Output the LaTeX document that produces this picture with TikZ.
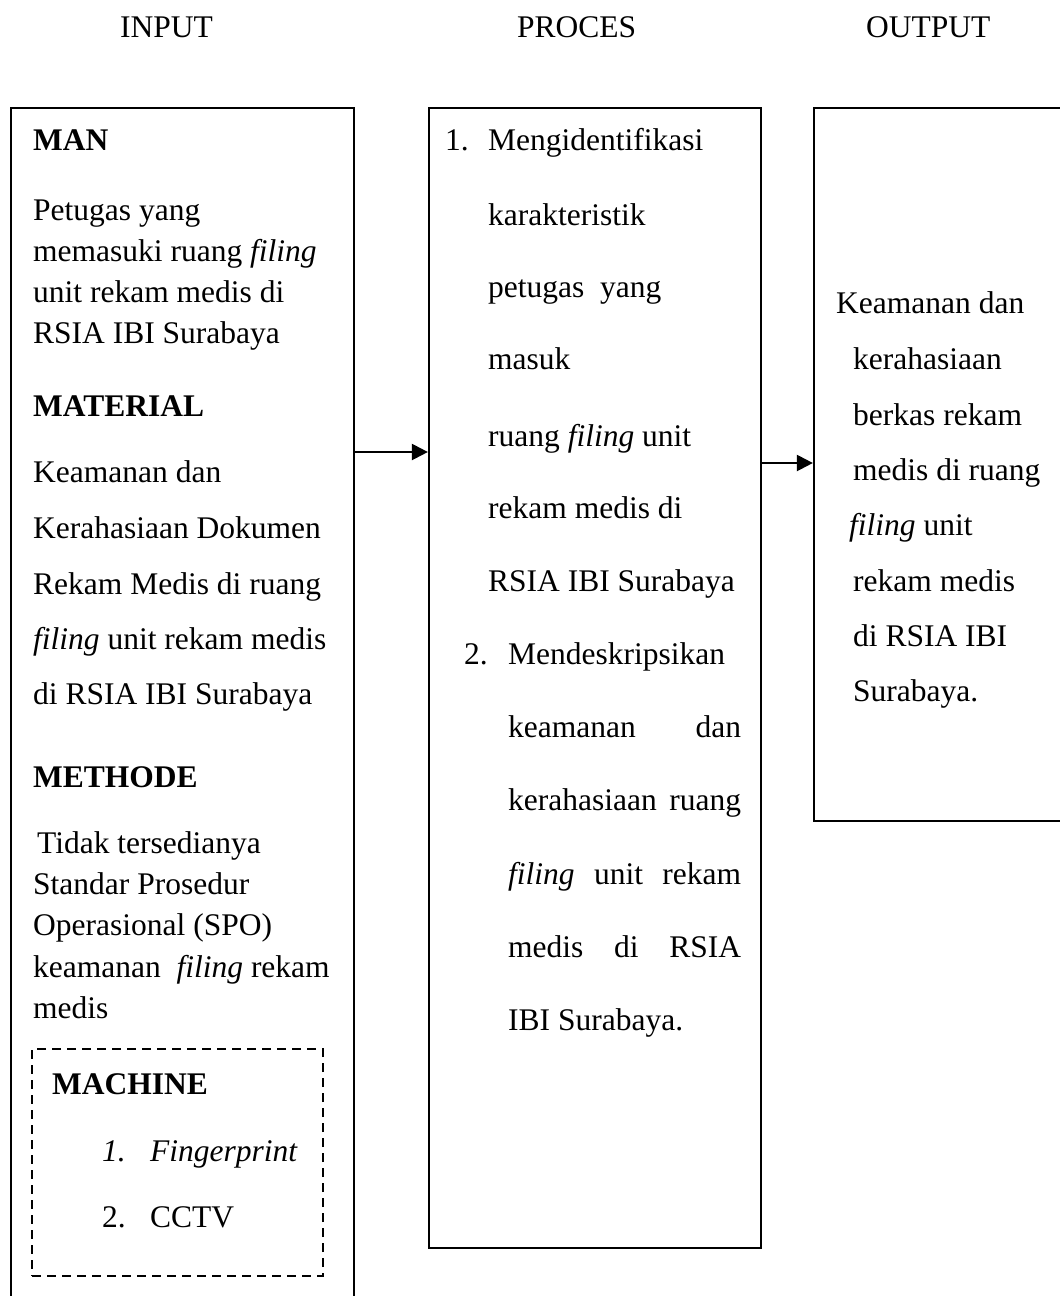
\documentclass[tikz,border=0pt]{standalone}
\usepackage{fontspec}
\setmainfont{Liberation Serif}
\usetikzlibrary{arrows.meta}
\begin{document}
\begin{tikzpicture}[x=1pt,y=-1pt,
  txt/.style={anchor=base west, inner sep=0pt, font=\fontsize{31.5}{38}\selectfont},
  hd/.style={txt, font=\fontsize{31.5}{38}\selectfont\bfseries},
  boxline/.style={draw=black, line width=2.2pt},
  arr/.style={line width=2.2pt, -{Triangle[length=16pt,width=16pt]}}]
\clip (0,0) rectangle (1060,1296);
\fill[white] (0,0) rectangle (1060,1296);
% headers
\node[txt] (hin) at (120,37) {INPUT};
\node[txt] (hpr) at (517,37) {PROCES};
\node[txt] (hout) at (866,37) {OUTPUT};
% boxes
\node[boxline, rectangle, minimum width=343pt, minimum height=1212pt, inner sep=0pt] (inbox) at (182.5,714) {};
\node[boxline, rectangle, minimum width=332pt, minimum height=1140pt, inner sep=0pt] (procbox) at (595,678) {};
\node[boxline, rectangle, minimum width=261pt, minimum height=713pt, inner sep=0pt] (outbox) at (944.5,464.5) {};
\node[draw=black, line width=2.2pt, dash pattern=on 9pt off 6pt, rectangle, minimum width=291pt, minimum height=227pt, inner sep=0pt] (machbox) at (177.5,1162.5) {};
% input texts
\node[hd] (man) at (33,150) {MAN};
\node[txt] (a1) at (33,220) {Petugas yang};
\node[txt] (a2) at (33,261) {memasuki ruang \textit{filing}};
\node[txt] (a3) at (33,302) {unit rekam medis di};
\node[txt] (a4) at (33,343) {RSIA IBI Surabaya};
\node[hd] (mat) at (33,416) {MATERIAL};
\node[txt] (b1) at (33,482) {Keamanan dan};
\node[txt] (b2) at (33,538) {Kerahasiaan Dokumen};
\node[txt] (b3) at (33,594) {Rekam Medis di ruang};
\node[txt] (b4) at (33,649) {\textit{filing} unit rekam medis};
\node[txt] (b5) at (33,704) {di RSIA IBI Surabaya};
\node[hd] (met) at (33,787) {METHODE};
\node[txt] (c1) at (37,853) {Tidak tersedianya};
\node[txt] (c2) at (33,894) {Standar Prosedur};
\node[txt] (c3) at (33,935) {Operasional (SPO)};
\node[txt] (c4) at (33,977) {keamanan\ \ \textit{filing} rekam};
\node[txt] (c5) at (33,1018) {medis};
\node[hd] (mach) at (52,1094) {MACHINE};
\node[txt] (d1n) at (102,1161) {\textit{1.}};
\node[txt] (d1) at (150,1161) {\textit{Fingerprint}};
\node[txt] (d2n) at (102,1227) {2.};
\node[txt] (d2) at (150,1227) {CCTV};
% process texts
\node[txt] (p1n) at (445,150) {1.};
\node[txt] (p1) at (488,150) {Mengidentifikasi};
\node[txt] (p2) at (488,225) {karakteristik};
\node[txt] (p3) at (488,297) {petugas\ \ yang};
\node[txt] (p4) at (488,369) {masuk};
\node[txt] (p5) at (488,446) {ruang \textit{filing} unit};
\node[txt] (p6) at (488,518) {rekam medis di};
\node[txt] (p7) at (488,591) {RSIA IBI Surabaya};
\node[txt] (q1n) at (464,664) {2.};
\node[txt] (q1) at (508,664) {Mendeskripsikan};
\node[txt] (q2) at (508,737) {\makebox[233pt][s]{keamanan \hfill dan}};
\node[txt] (q3) at (508,810) {\makebox[233pt][s]{kerahasiaan \hfill ruang}};
\node[txt] (q4) at (508,884) {\makebox[233pt][s]{\textit{filing} \hfill unit \hfill rekam}};
\node[txt] (q5) at (508,957) {\makebox[233pt][s]{medis \hfill di \hfill RSIA}};
\node[txt] (q6) at (508,1030) {IBI Surabaya.};
% output texts
\node[txt] (o1) at (836,313) {Keamanan dan};
\node[txt] (o2) at (853,369) {kerahasiaan};
\node[txt] (o3) at (853,425) {berkas rekam};
\node[txt] (o4) at (853,480) {medis di ruang};
\node[txt] (o5) at (849,535) {\textit{filing} unit};
\node[txt] (o6) at (853,591) {rekam medis};
\node[txt] (o7) at (853,646) {di RSIA IBI};
\node[txt] (o8) at (853,701) {Surabaya.};
% arrows
\draw[arr] (inbox.east |- 0,452) -- (procbox.west |- 0,452);
\draw[arr] (procbox.east |- 0,463) -- (outbox.west |- 0,463);
\end{tikzpicture}
\end{document}
